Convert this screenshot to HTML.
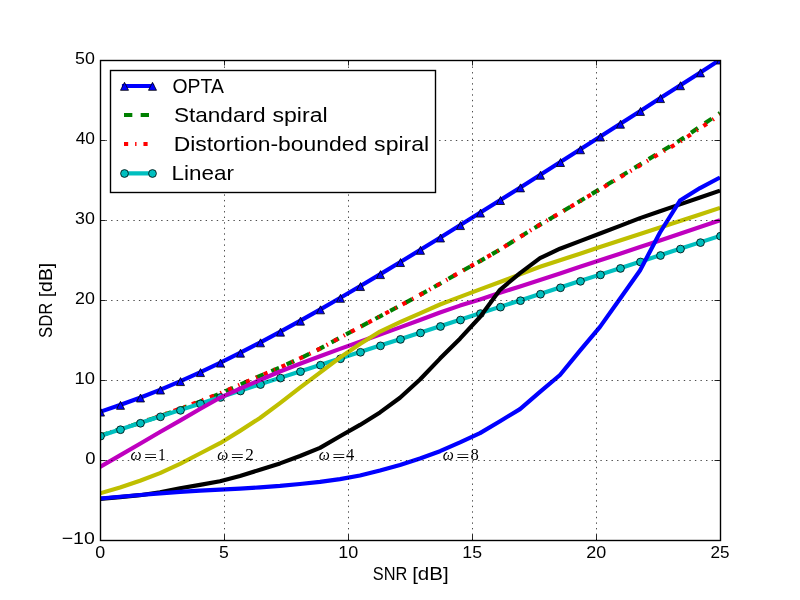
<!DOCTYPE html>
<html><head><meta charset="utf-8"><title>SDR vs SNR</title>
<style>html,body{margin:0;padding:0;background:#fff;}body{width:800px;height:600px;overflow:hidden;font-family:"Liberation Sans",sans-serif;}svg{display:block;will-change:transform;}text{font-family:"Liberation Sans",sans-serif;fill:#000;}.m{font-family:"Liberation Serif",serif;}.mi{font-family:"Liberation Serif",serif;font-style:italic;}</style>
</head><body>
<svg width="800" height="600" viewBox="0 0 800 600">
<rect x="0" y="0" width="800" height="600" fill="#ffffff"/>
<defs><clipPath id="ax"><rect x="100" y="60" width="620" height="480"/></clipPath></defs>
<g clip-path="url(#ax)" fill="none" stroke-width="4.17" stroke-linejoin="round">
<path d="M100.00,411.84 L120.00,405.08 L140.00,397.74 L160.00,389.82 L180.00,381.34 L200.00,372.34 L220.00,362.86 L240.00,352.93 L260.00,342.59 L280.00,331.90 L300.00,320.89 L320.00,309.59 L340.00,298.05 L360.00,286.30 L380.00,274.37 L400.00,262.29 L420.00,250.08 L440.00,237.75 L460.00,225.33 L480.00,212.83 L500.00,200.26 L520.00,187.64 L540.00,174.97 L560.00,162.26 L580.00,149.52 L600.00,136.75 L620.00,123.96 L640.00,111.15 L660.00,98.33 L680.00,85.49 L700.00,72.64 L720.00,59.78" stroke="#0000ff"/>
<g fill="#0000ff" stroke="#000" stroke-width="0.8" stroke-linejoin="miter">
<path d="M100.5,408.09 L104.50,416.09 L96.50,416.09 Z"/>
<path d="M120.5,401.33 L124.50,409.33 L116.50,409.33 Z"/>
<path d="M140.5,393.99 L144.50,401.99 L136.50,401.99 Z"/>
<path d="M160.5,386.07 L164.50,394.07 L156.50,394.07 Z"/>
<path d="M180.5,377.59 L184.50,385.59 L176.50,385.59 Z"/>
<path d="M200.5,368.59 L204.50,376.59 L196.50,376.59 Z"/>
<path d="M220.5,359.11 L224.50,367.11 L216.50,367.11 Z"/>
<path d="M240.5,349.18 L244.50,357.18 L236.50,357.18 Z"/>
<path d="M260.5,338.84 L264.50,346.84 L256.50,346.84 Z"/>
<path d="M280.5,328.15 L284.50,336.15 L276.50,336.15 Z"/>
<path d="M300.5,317.14 L304.50,325.14 L296.50,325.14 Z"/>
<path d="M320.5,305.84 L324.50,313.84 L316.50,313.84 Z"/>
<path d="M340.5,294.30 L344.50,302.30 L336.50,302.30 Z"/>
<path d="M360.5,282.55 L364.50,290.55 L356.50,290.55 Z"/>
<path d="M380.5,270.62 L384.50,278.62 L376.50,278.62 Z"/>
<path d="M400.5,258.54 L404.50,266.54 L396.50,266.54 Z"/>
<path d="M420.5,246.33 L424.50,254.33 L416.50,254.33 Z"/>
<path d="M440.5,234.00 L444.50,242.00 L436.50,242.00 Z"/>
<path d="M460.5,221.58 L464.50,229.58 L456.50,229.58 Z"/>
<path d="M480.5,209.08 L484.50,217.08 L476.50,217.08 Z"/>
<path d="M500.5,196.51 L504.50,204.51 L496.50,204.51 Z"/>
<path d="M520.5,183.89 L524.50,191.89 L516.50,191.89 Z"/>
<path d="M540.5,171.22 L544.50,179.22 L536.50,179.22 Z"/>
<path d="M560.5,158.51 L564.50,166.51 L556.50,166.51 Z"/>
<path d="M580.5,145.77 L584.50,153.77 L576.50,153.77 Z"/>
<path d="M600.5,133.00 L604.50,141.00 L596.50,141.00 Z"/>
<path d="M620.5,120.21 L624.50,128.21 L616.50,128.21 Z"/>
<path d="M640.5,107.40 L644.50,115.40 L636.50,115.40 Z"/>
<path d="M660.5,94.58 L664.50,102.58 L656.50,102.58 Z"/>
<path d="M680.5,81.74 L684.50,89.74 L676.50,89.74 Z"/>
<path d="M700.5,68.89 L704.50,76.89 L696.50,76.89 Z"/>
<path d="M720.5,56.03 L724.50,64.03 L716.50,64.03 Z"/>
</g>
<path d="M100.00,435.72 L120.00,429.17 L140.00,422.82 L160.00,416.17 L180.00,409.10 L200.00,401.60 L220.00,393.70 L240.00,384.70 L260.00,375.90 L280.00,367.50 L300.00,358.35 L320.00,348.70 L340.00,337.70 L360.00,326.95 L380.00,316.30 L400.00,305.70 L420.00,294.90 L440.00,283.70 L460.00,272.20 L480.00,261.10 L500.00,249.60 L520.00,236.90 L540.00,224.60 L560.00,213.00 L580.00,201.00 L600.00,189.00 L620.00,176.80 L640.00,164.50 L660.00,152.20 L680.00,140.30 L700.00,126.60 L720.00,113.00" stroke="#008000" stroke-dasharray="8.33 8.33"/>
<path d="M100.00,435.72 L120.00,429.17 L140.00,422.62 L160.00,415.87 L180.00,408.70 L200.00,401.20 L220.00,393.40 L240.00,384.60 L260.00,375.90 L280.00,367.50 L300.00,358.35 L320.00,348.70 L340.00,337.70 L360.00,326.95 L380.00,316.30 L400.00,305.70 L420.00,294.90 L440.00,283.70 L460.00,272.20 L480.00,261.10 L500.00,249.60 L520.00,236.90 L540.00,224.60 L560.00,213.00 L580.00,201.20 L600.00,189.40 L620.00,177.40 L640.00,165.40 L660.00,153.40 L680.00,141.80 L700.00,128.30 L720.00,114.90" stroke="#ff0000" stroke-dasharray="4.17 6.94 1.39 6.94"/>
<path d="M100.00,435.92 L120.00,429.47 L140.00,423.02 L160.00,416.57 L180.00,410.11 L200.00,403.66 L220.00,397.21 L240.00,390.76 L260.00,384.31 L280.00,377.86 L300.00,371.40 L320.00,364.95 L340.00,358.50 L360.00,352.05 L380.00,345.60 L400.00,339.15 L420.00,332.69 L440.00,326.24 L460.00,319.79 L480.00,313.34 L500.00,306.89 L520.00,300.44 L540.00,293.98 L560.00,287.53 L580.00,281.08 L600.00,274.63 L620.00,268.18 L640.00,261.73 L660.00,255.27 L680.00,248.82 L700.00,242.37 L720.00,235.92" stroke="#00bfbf"/>
<g fill="#00bfbf" stroke="#000" stroke-width="0.8">
<circle cx="100.5" cy="436.17" r="3.9"/>
<circle cx="120.5" cy="429.72" r="3.9"/>
<circle cx="140.5" cy="423.27" r="3.9"/>
<circle cx="160.5" cy="416.82" r="3.9"/>
<circle cx="180.5" cy="410.36" r="3.9"/>
<circle cx="200.5" cy="403.91" r="3.9"/>
<circle cx="220.5" cy="397.46" r="3.9"/>
<circle cx="240.5" cy="391.01" r="3.9"/>
<circle cx="260.5" cy="384.56" r="3.9"/>
<circle cx="280.5" cy="378.11" r="3.9"/>
<circle cx="300.5" cy="371.65" r="3.9"/>
<circle cx="320.5" cy="365.20" r="3.9"/>
<circle cx="340.5" cy="358.75" r="3.9"/>
<circle cx="360.5" cy="352.30" r="3.9"/>
<circle cx="380.5" cy="345.85" r="3.9"/>
<circle cx="400.5" cy="339.40" r="3.9"/>
<circle cx="420.5" cy="332.94" r="3.9"/>
<circle cx="440.5" cy="326.49" r="3.9"/>
<circle cx="460.5" cy="320.04" r="3.9"/>
<circle cx="480.5" cy="313.59" r="3.9"/>
<circle cx="500.5" cy="307.14" r="3.9"/>
<circle cx="520.5" cy="300.69" r="3.9"/>
<circle cx="540.5" cy="294.23" r="3.9"/>
<circle cx="560.5" cy="287.78" r="3.9"/>
<circle cx="580.5" cy="281.33" r="3.9"/>
<circle cx="600.5" cy="274.88" r="3.9"/>
<circle cx="620.5" cy="268.43" r="3.9"/>
<circle cx="640.5" cy="261.98" r="3.9"/>
<circle cx="660.5" cy="255.52" r="3.9"/>
<circle cx="680.5" cy="249.07" r="3.9"/>
<circle cx="700.5" cy="242.62" r="3.9"/>
<circle cx="720.5" cy="236.17" r="3.9"/>
</g>
<path d="M100.00,466.90 L120.00,455.40 L140.00,443.80 L160.00,432.00 L180.00,420.60 L200.00,409.00 L220.00,397.80 L240.00,388.70 L260.00,380.00 L280.00,371.50 L300.00,363.70 L320.00,356.30 L340.00,348.90 L360.00,341.70 L380.00,334.50 L400.00,327.40 L420.00,320.00 L440.00,312.50 L460.00,305.60 L480.00,299.40 L500.00,292.81 L520.00,286.42 L540.00,280.03 L560.00,273.44 L580.00,266.85 L600.00,260.26 L620.00,253.67 L640.00,247.08 L660.00,240.49 L680.00,233.70 L700.00,226.91 L720.00,220.32" stroke="#bf00bf"/>
<path d="M100.00,493.30 L120.00,487.45 L140.00,480.70 L160.00,473.10 L180.00,463.80 L200.00,453.50 L220.00,443.20 L240.00,430.90 L260.00,418.00 L280.00,403.10 L300.00,387.70 L320.00,372.60 L340.00,357.60 L360.00,344.10 L380.00,331.60 L400.00,322.20 L420.00,313.30 L440.00,304.50 L460.00,296.90 L480.00,289.40 L500.00,282.00 L520.00,274.40 L540.00,266.75 L560.00,260.20 L580.00,253.67 L600.00,247.10 L620.00,240.60 L640.00,234.05 L660.00,227.50 L680.00,221.00 L700.00,214.40 L720.00,207.90" stroke="#bfbf00"/>
<path d="M100.00,498.90 L120.00,497.10 L140.00,495.20 L160.00,492.30 L180.00,488.30 L200.00,484.90 L220.00,481.20 L240.00,475.90 L260.00,469.80 L280.00,463.40 L300.00,456.00 L320.00,447.90 L340.00,436.30 L360.00,424.90 L380.00,412.40 L400.00,397.75 L420.00,379.45 L440.00,358.60 L460.00,338.70 L480.00,317.00 L500.00,289.80 L520.00,273.10 L540.00,258.20 L560.00,248.70 L580.00,241.10 L600.00,233.45 L620.00,225.90 L640.00,218.10 L660.00,211.25 L680.00,204.40 L700.00,197.50 L720.00,190.60" stroke="#000000"/>
<path d="M100.00,498.50 L120.00,496.75 L140.00,495.00 L160.00,493.30 L180.00,491.80 L200.00,490.60 L220.00,489.60 L240.00,488.60 L260.00,487.35 L280.00,485.90 L300.00,484.00 L320.00,481.90 L340.00,479.10 L360.00,475.50 L380.00,470.50 L400.00,464.95 L420.00,458.50 L440.00,451.20 L460.00,442.45 L480.00,433.10 L500.00,421.20 L520.00,409.10 L540.00,391.90 L560.00,375.00 L580.00,350.60 L600.00,326.90 L620.00,298.75 L640.00,270.50 L660.00,232.50 L680.00,200.60 L700.00,188.10 L720.00,177.50" stroke="#0000ff"/>
</g>
<g stroke="#000" stroke-width="0.7" stroke-dasharray="1.39 4.17" fill="none">
<line x1="224.5" y1="540.5" x2="224.5" y2="60"/>
<line x1="348.5" y1="540.5" x2="348.5" y2="60"/>
<line x1="472.5" y1="540.5" x2="472.5" y2="60"/>
<line x1="596.5" y1="540.5" x2="596.5" y2="60"/>
<line x1="100" y1="140.5" x2="720" y2="140.5"/>
<line x1="100" y1="220.5" x2="720" y2="220.5"/>
<line x1="100" y1="300.5" x2="720" y2="300.5"/>
<line x1="100" y1="380.5" x2="720" y2="380.5"/>
<line x1="100" y1="460.5" x2="720" y2="460.5"/>
</g>
<rect x="100.5" y="60.5" width="620" height="480" fill="none" stroke="#000" stroke-width="1.39"/>
<g stroke="#000" stroke-width="0.85">
<line x1="100.5" y1="540" x2="100.5" y2="534.5"/><line x1="100.5" y1="60" x2="100.5" y2="65.5"/>
<line x1="224.5" y1="540" x2="224.5" y2="534.5"/><line x1="224.5" y1="60" x2="224.5" y2="65.5"/>
<line x1="348.5" y1="540" x2="348.5" y2="534.5"/><line x1="348.5" y1="60" x2="348.5" y2="65.5"/>
<line x1="472.5" y1="540" x2="472.5" y2="534.5"/><line x1="472.5" y1="60" x2="472.5" y2="65.5"/>
<line x1="596.5" y1="540" x2="596.5" y2="534.5"/><line x1="596.5" y1="60" x2="596.5" y2="65.5"/>
<line x1="720.5" y1="540" x2="720.5" y2="534.5"/><line x1="720.5" y1="60" x2="720.5" y2="65.5"/>
<line x1="100" y1="60.5" x2="105.5" y2="60.5"/><line x1="720" y1="60.5" x2="714.5" y2="60.5"/>
<line x1="100" y1="140.5" x2="105.5" y2="140.5"/><line x1="720" y1="140.5" x2="714.5" y2="140.5"/>
<line x1="100" y1="220.5" x2="105.5" y2="220.5"/><line x1="720" y1="220.5" x2="714.5" y2="220.5"/>
<line x1="100" y1="300.5" x2="105.5" y2="300.5"/><line x1="720" y1="300.5" x2="714.5" y2="300.5"/>
<line x1="100" y1="380.5" x2="105.5" y2="380.5"/><line x1="720" y1="380.5" x2="714.5" y2="380.5"/>
<line x1="100" y1="460.5" x2="105.5" y2="460.5"/><line x1="720" y1="460.5" x2="714.5" y2="460.5"/>
<line x1="100" y1="540.5" x2="105.5" y2="540.5"/><line x1="720" y1="540.5" x2="714.5" y2="540.5"/>
</g>
<rect x="110.5" y="70.5" width="325" height="122" fill="#fff" stroke="#000" stroke-width="1.39"/>
<g fill="none" stroke-width="4.17">
<path d="M124,86 L152,86" stroke="#0000ff" stroke-linecap="square"/>
<path d="M124,115 L152,115" stroke="#008000" stroke-dasharray="8.33 8.33"/>
<path d="M124,144 L152,144" stroke="#ff0000" stroke-dasharray="4.17 6.94 1.39 6.94"/>
<path d="M124,173.3 L152,173.3" stroke="#00bfbf" stroke-linecap="square"/>
</g>
<g stroke="#000" stroke-width="0.8">
<path d="M124.5,82.30 L128.50,90.30 L120.50,90.30 Z" fill="#0000ff"/>
<circle cx="124.5" cy="173.5" r="3.9" fill="#00bfbf"/>
<path d="M152.5,82.30 L156.50,90.30 L148.50,90.30 Z" fill="#0000ff"/>
<circle cx="152.5" cy="173.5" r="3.9" fill="#00bfbf"/>
</g>
<text font-size="17.0" transform="matrix(1.0514 0 0 1 75.11 63.70)">50</text>
<text font-size="17.0" transform="matrix(1.0222 0 0 1 75.64 143.70)">40</text>
<text font-size="17.0" transform="matrix(1.0514 0 0 1 75.11 223.70)">30</text>
<text font-size="17.0" transform="matrix(1.0514 0 0 1 75.11 303.70)">20</text>
<text font-size="17.0" transform="matrix(1.0824 0 0 1 74.55 383.70)">10</text>
<text font-size="17.0" transform="matrix(1.0875 0 0 1 85.18 463.70)">0</text>
<text font-size="17.0" transform="matrix(1.1491 0 0 1 61.64 543.70)">−10</text>
<text font-size="17.0" transform="matrix(1.0500 0 0 1 95.21 557.80)">0</text>
<text font-size="17.0" transform="matrix(1.0375 0 0 1 219.12 557.80)">5</text>
<text font-size="17.0" transform="matrix(1.0588 0 0 1 338.18 557.80)">10</text>
<text font-size="17.0" transform="matrix(1.0412 0 0 1 462.30 557.80)">15</text>
<text font-size="17.0" transform="matrix(1.0571 0 0 1 586.21 557.80)">20</text>
<text font-size="17.0" transform="matrix(1.0057 0 0 1 710.45 557.80)">25</text>
<text font-size="17.66" transform="matrix(0.9259 0 0 1 372.81 580.25)">SNR</text>
<text font-size="17.66" transform="matrix(1.1621 0 0 1 412.15 580.25)">[dB]</text>
<text font-size="17.66" transform="translate(52.0,337.2) rotate(-90) matrix(0.9483 0 0 1 -0.71 0.00)">SDR</text>
<text font-size="17.66" transform="translate(52.0,337.2) rotate(-90) matrix(1.1000 0 0 1 39.92 0.00)">[dB]</text>
<text font-size="20.8" transform="matrix(0.9306 0 0 1 172.57 93.30)">OPTA</text>
<text font-size="20.8" transform="matrix(1.0866 0 0 1 173.91 121.50)">Standard</text>
<text font-size="20.8" transform="matrix(1.1099 0 0 1 272.45 121.50)">spiral</text>
<text font-size="20.8" transform="matrix(1.1019 0 0 1 173.67 151.00)">Distortion-bounded</text>
<text font-size="20.8" transform="matrix(1.1089 0 0 1 374.10 151.00)">spiral</text>
<text font-size="20.8" transform="matrix(1.0807 0 0 1 171.61 180.00)">Linear</text>
<text class="mi" font-size="16.2" transform="matrix(0.9659 0 0 1 130.42 460.00)">ω</text>
<text class="m" font-size="17.5" transform="matrix(1.3333 0 0 1 143.90 461.75)">=</text>
<text class="m" font-size="17.2" transform="matrix(0.9083 0 0 1 157.89 460.20)">1</text>
<text class="mi" font-size="16.2" transform="matrix(0.9659 0 0 1 217.22 460.00)">ω</text>
<text class="m" font-size="17.5" transform="matrix(1.3333 0 0 1 230.70 461.75)">=</text>
<text class="m" font-size="17.2" transform="matrix(1.0000 0 0 1 245.25 460.20)">2</text>
<text class="mi" font-size="16.2" transform="matrix(0.9659 0 0 1 318.82 460.00)">ω</text>
<text class="m" font-size="17.5" transform="matrix(1.3333 0 0 1 332.30 461.75)">=</text>
<text class="m" font-size="17.2" transform="matrix(0.9625 0 0 1 345.96 460.20)">4</text>
<text class="mi" font-size="16.2" transform="matrix(0.9659 0 0 1 442.82 460.00)">ω</text>
<text class="m" font-size="17.5" transform="matrix(1.3333 0 0 1 456.30 461.75)">=</text>
<text class="m" font-size="17.2" transform="matrix(0.9655 0 0 1 470.58 460.20)">8</text>
</svg></body></html>
